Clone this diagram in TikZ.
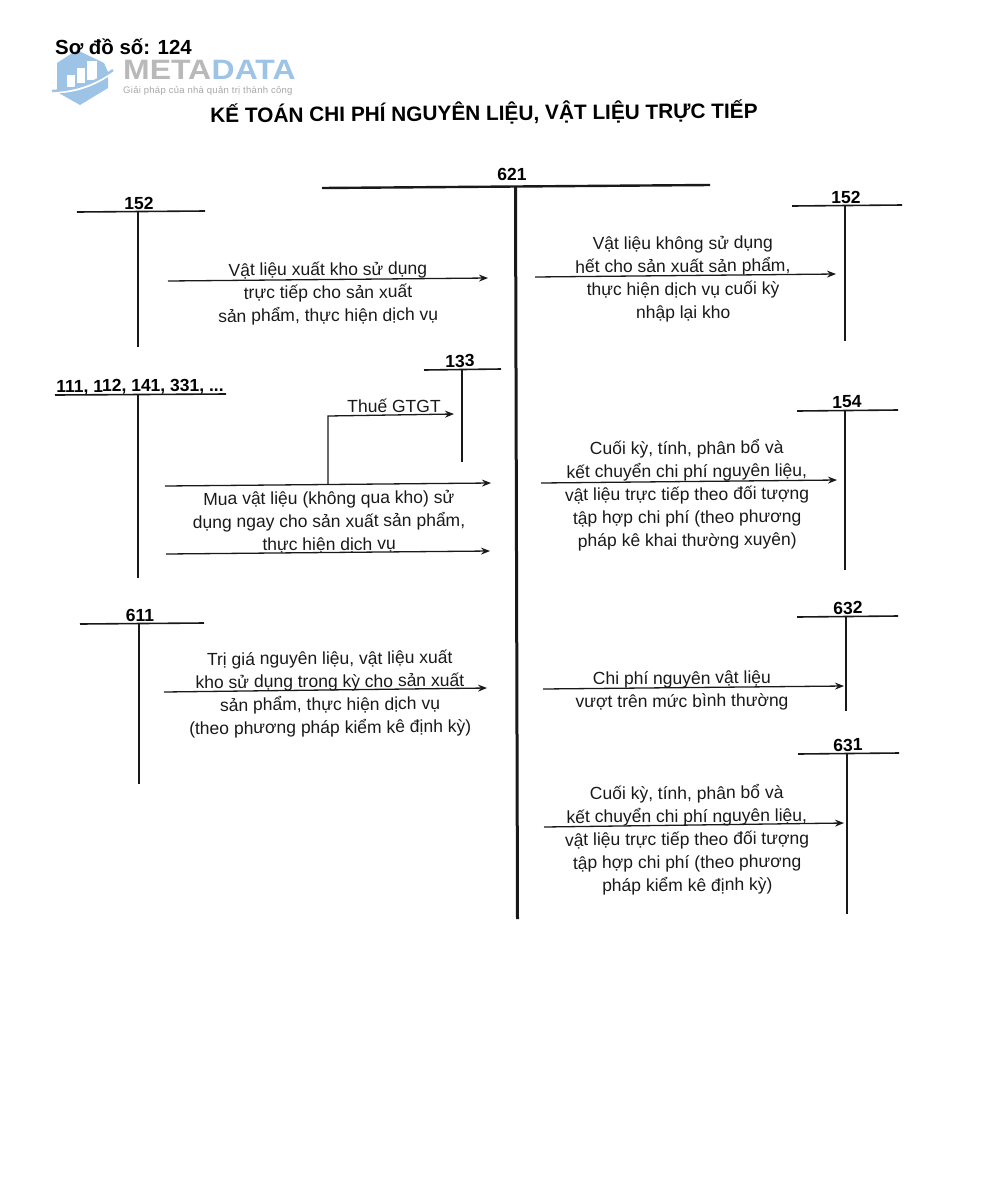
\documentclass[tikz,border=0pt]{standalone}
\usepackage{fontspec}
\setmainfont{Liberation Sans}
\usetikzlibrary{arrows.meta,calc,positioning}
\definecolor{logoblue}{HTML}{9DC3E6}
\definecolor{logogray}{HTML}{B9B9B9}
\tikzset{
  acctlabel/.style={font=\fontsize{17.5}{18}\selectfont\bfseries,rotate=0.3},
  acctline/.style={line width=1.6pt,black!90},
  flow/.style={-{Stealth[length=9pt,width=7pt]},line width=1.3pt,black!90},
  note/.style={font=\fontsize{17.5}{23}\selectfont,align=center,rotate=0.4,black!90},
}
\begin{document}
\begin{tikzpicture}[x=1pt,y=-1pt]
  \useasboundingbox (0,0) rectangle (996,1200);
  % logo
  \fill[logoblue] (77,50) -- (104,63) -- (108,72) -- (108,88) -- (80,105) -- (57,92) -- (57,63) -- cycle;
  \fill[white] (67,75) rectangle (75,87);
  \fill[white] (77,68) rectangle (85,83);
  \fill[white] (87,61) rectangle (97,80);
  \draw[white,line width=3pt] (52,92) .. controls (75,92) and (95,85) .. (114,71);
  \draw[logoblue,line width=2.5pt] (52,91) .. controls (75,90) and (95,83) .. (113,70);
  \node[anchor=west,inner sep=0pt,xscale=1.14,font=\fontsize{28}{30}\selectfont\bfseries,text=logogray] (logoa) at (123,70) {META};
  \node[anchor=west,inner sep=0pt,xscale=1.14,font=\fontsize{28}{30}\selectfont\bfseries,text=logoblue] (logob) at (logoa.east) {DATA};
  \node[anchor=west,inner sep=0pt,font=\fontsize{9.5}{11}\selectfont,text=logogray!90!black] (logoc) at (123,91) {\addfontfeature{LetterSpace=3}Giải pháp của nhà quản trị thành công};
  % headings
  \node[anchor=west,inner sep=0pt,font=\fontsize{20.4}{22}\selectfont\bfseries] (sodo) at (55,47) {Sơ đồ số: 124};
  \node[font=\fontsize{20.8}{22}\selectfont\bfseries,rotate=0.5] (title) at (484,113) {KẾ TOÁN CHI PHÍ NGUYÊN LIỆU, VẬT LIỆU TRỰC TIẾP};
  % T accounts: name/label/left/right/bar/stem/end/label pos
  \foreach \nm/\lab/\lx/\rx/\by/\sx/\ey/\tx/\ty in {
    a/152/77/205/212/138/347/139/203,
    b/152/792/902/206/845/341/846/197,
    c/133/424/501/370/462/462/460/361,
    d/{111, 112, 141, 331, ...}/55/226/395/138/578/140/387,
    e/154/797/898/411/845/570/847/402,
    f/611/80/204/624/139/784/140/615,
    g/632/797/898/617/846/711/848/608,
    h/631/798/899/754/847/914/848/745}{
    \node[acctlabel] (lab\nm) at (\tx,\ty) {\lab};
    \coordinate (bl\nm) at (\lx,\by);
    \coordinate (br\nm) at (\rx,\by-1);
    \coordinate (st\nm) at (\sx,\by);
    \coordinate (en\nm) at (\sx,\ey);
    \draw[acctline] (bl\nm) -- (br\nm);
    \draw[acctline,line width=2pt] (st\nm) -- (en\nm);
  }
  % main account
  \node[acctlabel] (labm) at (512,174) {621};
  \coordinate (blm) at (322,188);
  \coordinate (brm) at (710,185);
  \coordinate (stm) at (515.5,187);
  \coordinate (enm) at (517.5,919);
  \draw[acctline,line width=2.4pt] (blm) -- (brm);
  \draw[acctline,line width=3pt] (stm) -- (enm);
  % flows
  \foreach \nm/\sx/\sy/\ex/\ey in {
    p/168/281/488/278,
    q/535/277/836/274,
    r/165/486/491/483,
    s/166/554/490/551,
    t/541/483/837/480,
    u/164/692/487/688,
    v/543/689/844/686,
    w/544/827/844/823}{
    \coordinate (from\nm) at (\sx,\sy);
    \coordinate (to\nm) at (\ex,\ey);
    \draw[flow] (from\nm) -- (to\nm);
  }
  \coordinate (vat) at (328,484.5);
  \coordinate (vatup) at (328,416);
  \coordinate (vatend) at (454,414);
  \draw[flow] (vat) -- (vatup) -- (vatend);
  % texts
  \node[note] (vat text) at (394,406) {Thuế GTGT};
  \node[note] (n1) at (328,293.5) {Vật liệu xuất kho sử dụng\\trực tiếp cho sản xuất\\sản phẩm, thực hiện dịch vụ};
  \node[note] (n2) at (683,279) {Vật liệu không sử dụng\\hết cho sản xuất sản phẩm,\\thực hiện dịch vụ cuối kỳ\\nhập lại kho};
  \node[note] (n3) at (329,522) {Mua vật liệu (không qua kho) sử\\dụng ngay cho sản xuất sản phẩm,\\thực hiện dịch vụ};
  \node[note] (n4) at (687,495) {Cuối kỳ, tính, phân bổ và\\kết chuyển chi phí nguyên liệu,\\vật liệu trực tiếp theo đối tượng\\tập hợp chi phí (theo phương\\pháp kê khai thường xuyên)};
  \node[note] (n5) at (330,694) {Trị giá nguyên liệu, vật liệu xuất\\kho sử dụng trong kỳ cho sản xuất\\sản phẩm, thực hiện dịch vụ\\(theo phương pháp kiểm kê định kỳ)};
  \node[note] (n6) at (682,691) {Chi phí nguyên vật liệu\\vượt trên mức bình thường};
  \node[note] (n7) at (687,840) {Cuối kỳ, tính, phân bổ và\\kết chuyển chi phí nguyên liệu,\\vật liệu trực tiếp theo đối tượng\\tập hợp chi phí (theo phương\\pháp kiểm kê định kỳ)};
\end{tikzpicture}
\end{document}
